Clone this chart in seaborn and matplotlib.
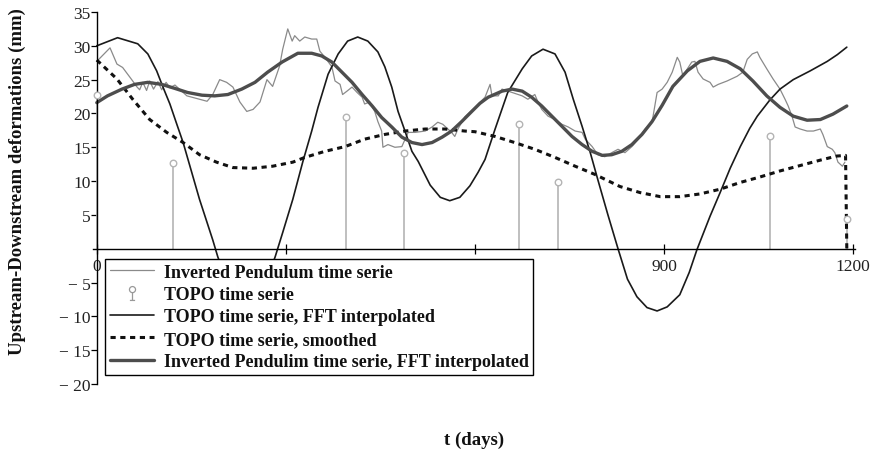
import matplotlib
matplotlib.use("Agg")
import matplotlib.pyplot as plt
import seaborn as sns
from matplotlib.path import Path
from matplotlib.lines import Line2D
from matplotlib.font_manager import FontProperties

# ---- data (t in days, deformation in mm) ----
pend_t = [0, 21, 32, 41, 57, 63, 68, 73, 79, 84, 90, 97, 103, 110, 116, 124,
          143, 163, 175, 184, 195, 206, 216, 227, 238, 248, 259, 270, 279, 290,
          295, 303, 310, 314, 322, 330, 341, 349, 354, 362, 373, 378, 386, 390,
          397, 405, 413, 421, 425, 433, 441, 446, 452, 454, 462, 473, 484, 494,
          505, 521, 532, 541, 549, 557, 563, 568, 573, 584, 600, 616, 624, 627,
          637, 643, 659, 675, 684, 695, 700, 706, 716, 727, 738, 748, 759, 770,
          775, 786, 795, 806, 817, 827, 838, 849, 859, 870, 881, 889, 897, 905,
          913, 921, 925, 930, 937, 944, 949, 954, 962, 973, 978, 986, 1000, 1016,
          1025, 1032, 1040, 1048, 1052, 1063, 1073, 1084, 1092, 1097, 1103, 1108,
          1116, 1127, 1137, 1148, 1152, 1159, 1167, 1171, 1176, 1183, 1187]
pend_v = [27.7, 29.7, 27.3, 26.8, 24.8, 24.0, 23.5, 24.6, 23.4, 24.8, 23.6, 24.7,
          23.5, 24.6, 23.8, 24.2, 22.6, 22.1, 21.8, 22.8, 25.0, 24.6, 23.9, 21.7,
          20.3, 20.6, 21.7, 25.0, 24.0, 27.0, 29.5, 32.5, 30.7, 31.5, 30.7, 31.3,
          31.0, 31.0, 29.2, 28.3, 26.9, 24.8, 24.3, 22.8, 23.3, 23.9, 23.1, 22.4,
          21.4, 21.7, 20.3, 18.8, 17.4, 15.0, 15.4, 15.0, 15.1, 17.2, 17.2, 17.4,
          18.0, 18.7, 18.4, 17.7, 17.2, 16.6, 17.7, 19.5, 20.9, 22.4, 24.3, 22.6,
          22.6, 23.6, 23.1, 22.6, 22.1, 22.8, 21.7, 20.6, 19.6, 19.1, 18.4, 18.0,
          17.4, 17.2, 16.2, 15.1, 13.9, 13.6, 14.2, 14.7, 14.2, 15.1, 16.2, 17.7,
          18.7, 23.1, 23.6, 24.6, 26.1, 28.3, 27.6, 25.5, 26.6, 27.6, 27.7, 26.1,
          25.1, 24.6, 23.9, 24.3, 24.8, 25.5, 26.1, 28.0, 28.8, 29.1, 28.3, 26.6,
          25.1, 23.6, 22.1, 21.1, 19.6, 18.0, 17.7, 17.4, 17.4, 17.7, 16.9, 15.1,
          14.7, 14.2, 12.8, 12.2, 12.8]

topo_t = [0, 121, 395, 487, 670, 732, 1068, 1190]
topo_v = [22.8, 12.7, 19.5, 14.2, 18.5, 9.9, 16.7, 4.4]

topo_fft_t = [0, 33, 65, 81, 95, 105, 116, 127, 137, 163, 184, 192, 215, 237,
              260, 283, 295, 311, 327, 341, 351, 367, 383, 398, 414, 430, 446,
              457, 468, 478, 489, 500, 510, 529, 545, 560, 576, 592, 605, 616,
              632, 652, 675, 690, 708, 727, 743, 756, 770, 783, 795, 811, 827,
              842, 857, 873, 889, 905, 925, 940, 952, 957, 973, 989, 1005, 1021,
              1036, 1048, 1068, 1084, 1105, 1132, 1159, 1175, 1190]
topo_fft_v = [30.0, 31.2, 30.3, 28.8, 26.3, 23.9, 21.4, 18.4, 15.7, 7.3, 1.3,
              -1.2, -7.0, -9.5, -7.0, -1.2, 2.4, 7.3, 12.9, 17.4, 20.9, 25.8,
              28.8, 30.7, 31.3, 30.7, 29.1, 26.9, 23.9, 20.3, 17.4, 14.4, 12.9,
              9.4, 7.6, 7.1, 7.6, 9.3, 11.3, 13.2, 17.7, 23.1, 26.6, 28.5, 29.5,
              28.8, 26.1, 22.1, 18.1, 14.2, 10.2, 5.0, 0.0, -4.5, -7.1, -8.7,
              -9.2, -8.6, -6.8, -3.5, -0.2, 1.0, 4.8, 8.3, 11.9, 15.1, 17.8,
              19.6, 22.0, 23.6, 25.0, 26.3, 27.7, 28.7, 29.8]

smooth_t = [0, 16, 32, 57, 84, 111, 137, 163, 190, 216, 248, 279, 311, 330,
            362, 394, 425, 457, 489, 521, 552, 584, 600, 632, 663, 695, 727,
            759, 790, 830, 862, 894, 925, 957, 989, 1021, 1052, 1084, 1116,
            1148, 1174, 1188, 1190]
smooth_v = [27.9, 26.5, 25.1, 22.1, 19.1, 17.2, 15.7, 13.9, 12.8, 12.0, 11.9,
            12.2, 12.8, 13.5, 14.4, 15.1, 16.2, 16.9, 17.4, 17.7, 17.7, 17.4,
            17.3, 16.6, 15.7, 14.7, 13.5, 12.2, 11.0, 9.2, 8.3, 7.7, 7.7, 8.1,
            8.8, 9.8, 10.6, 11.5, 12.3, 13.1, 13.7, 13.8, 0.0]

pend_fft_t = [0, 17, 40, 60, 81, 103, 124, 144, 167, 187, 208, 230, 251, 271,
              294, 319, 341, 357, 373, 389, 405, 421, 437, 452, 468, 484, 500,
              516, 532, 548, 563, 579, 595, 608, 621, 643, 659, 675, 690, 706,
              722, 738, 754, 770, 786, 802, 817, 833, 849, 865, 881, 897, 914,
              937, 957, 978, 1000, 1021, 1041, 1063, 1084, 1105, 1127, 1148,
              1168, 1190]
pend_fft_v = [21.6, 22.6, 23.6, 24.3, 24.6, 24.3, 23.7, 23.1, 22.7, 22.6, 22.8,
              23.6, 24.6, 26.1, 27.6, 28.9, 28.9, 28.5, 27.6, 26.1, 24.6, 22.8,
              21.1, 19.4, 18.0, 16.5, 15.7, 15.4, 15.7, 16.5, 17.4, 18.8, 20.3,
              21.5, 22.4, 23.3, 23.6, 23.3, 22.4, 21.1, 19.6, 18.1, 16.6, 15.4,
              14.4, 13.8, 13.9, 14.4, 15.4, 16.9, 18.8, 21.2, 24.0, 26.3, 27.7,
              28.2, 27.7, 26.6, 24.8, 22.6, 20.9, 19.6, 19.0, 19.1, 19.9, 21.1]

x_ticks = [0, 300, 600, 900, 1200]
x_tick_labels = ["0", "", "", "900", "1200"]
y_ticks = [-20, -15, -10, -5, 5, 10, 15, 20, 25, 30, 35]
y_tick_labels = ["\u2212 20", "\u2212 15", "\u2212 10", "\u2212 5",
                 "5", "10", "15", "20", "25", "30", "35"]

legend_labels = ["Inverted Pendulum time serie",
                 "TOPO time serie",
                 "TOPO time serie, FFT interpolated",
                 "TOPO time serie, smoothed",
                 "Inverted Pendulim time serie, FFT interpolated"]

# ---- styling ----
sns.set_theme(style="white")
plt.rcParams["font.family"] = ["Liberation Serif", "DejaVu Serif"]

C_PEND = "#8a8a8a"
C_STEM = "#b4b4b4"
C_FFT = "#1a1a1a"
C_SMOOTH = "#111111"
C_PFFT = "#4d4d4d"

fig = plt.figure(figsize=(8.78, 4.52), dpi=100)
ax = fig.add_axes([93 / 878, 1 - 385 / 452, 762 / 878, 372 / 452])

# raw pendulum series
sns.lineplot(x=pend_t, y=pend_v, ax=ax, color=C_PEND, linewidth=0.9,
             estimator=None, sort=False, legend=False)

# TOPO stems
ax.vlines(topo_t, 0, topo_v, colors=C_STEM, linewidth=1.2, zorder=2)
sns.scatterplot(x=topo_t, y=topo_v, ax=ax, marker="o", s=22,
                facecolor="white", edgecolor=C_STEM, linewidth=1.0,
                zorder=3, legend=False)

# TOPO FFT interpolated
sns.lineplot(x=topo_fft_t, y=topo_fft_v, ax=ax, color=C_FFT, linewidth=1.2,
             estimator=None, sort=False, legend=False)

# TOPO smoothed
sns.lineplot(x=smooth_t, y=smooth_v, ax=ax, color=C_SMOOTH, linewidth=2.2,
             linestyle=(0, (1.7, 1.5)), estimator=None, sort=False,
             legend=False)

# pendulum FFT interpolated
sns.lineplot(x=pend_fft_t, y=pend_fft_v, ax=ax, color=C_PFFT, linewidth=2.4,
             estimator=None, sort=False, legend=False)

# axes crossing at the origin
ax.set_xlim(-6, 1203)
ax.set_ylim(-20, 35)
for side in ("top", "right"):
    ax.spines[side].set_visible(False)
ax.spines["left"].set_position(("data", 0))
ax.spines["bottom"].set_position(("data", 0))
for side in ("left", "bottom"):
    ax.spines[side].set_color("black")
    ax.spines[side].set_linewidth(1.0)

ax.set_xticks(x_ticks)
ax.set_xticklabels(x_tick_labels)
ax.set_yticks(y_ticks)
ax.set_yticklabels(y_tick_labels)
ax.tick_params(axis="both", which="major", width=0.9, color="black",
               labelsize=12.5, labelcolor="#222222", bottom=True, left=True)
ax.tick_params(axis="x", direction="inout", length=7, pad=3)
ax.tick_params(axis="y", direction="out", length=4, pad=0.5)
ax.set_xlabel("")
ax.set_ylabel("")
ax.grid(False)

# legend
stem_marker = Path.make_compound_path(
    Path.circle(center=(0, 0.45), radius=0.35),
    Path([(0, 0.1), (0, -0.8)], [Path.MOVETO, Path.LINETO]),
    Path([(-0.3, -0.8), (0.3, -0.8)], [Path.MOVETO, Path.LINETO]),
)
handles = [
    Line2D([], [], color=C_PEND, linewidth=0.9),
    Line2D([], [], linestyle="none", marker=stem_marker, markersize=10,
           markerfacecolor="none", markeredgecolor="#999999",
           markeredgewidth=0.9),
    Line2D([], [], color=C_FFT, linewidth=1.2),
    Line2D([], [], color=C_SMOOTH, linewidth=2.2, linestyle=(0, (1.7, 1.5))),
    Line2D([], [], color=C_PFFT, linewidth=2.4),
]
leg = ax.legend(handles, legend_labels, loc="upper left",
                bbox_to_anchor=(105 / 878, 1 - 260 / 452),
                bbox_transform=fig.transFigure,
                prop=FontProperties(family="Liberation Serif", weight="bold",
                                    size=13),
                frameon=True, fancybox=False, shadow=False, framealpha=1,
                edgecolor="black", handlelength=2.45, handletextpad=0.55,
                borderpad=0.25, labelspacing=0.3, borderaxespad=0)
leg.get_frame().set_linewidth(1.0)
for txt in leg.get_texts():
    txt.set_color("#111111")

# axis titles
fig.text(17 / 878, 1 - 182 / 452, "Upstream-Downstream deformations (mm)",
         rotation=90, ha="center", va="center", fontsize=13.5,
         fontweight="bold", family="Liberation Serif", color="#111111")
fig.text(474 / 878, 1 - 440 / 452, "t (days)", ha="center", va="center",
         fontsize=13.5, fontweight="bold", family="Liberation Serif",
         color="#111111")

fig.savefig("out.png", dpi=100)
